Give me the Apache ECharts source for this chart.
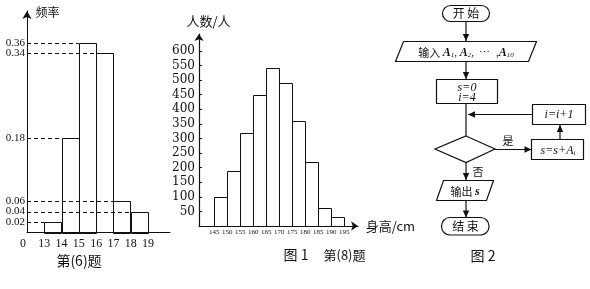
<!DOCTYPE html>
<html><head><meta charset="utf-8">
<script src="https://cdn.jsdelivr.net/npm/echarts@6/dist/echarts.min.js"></script>
<style>html,body{margin:0;padding:0;background:#fff}#c{width:590px;height:289px}</style>
</head><body><div id="c"></div>
<script>
// ---- Panel 1: 第(6)题 frequency histogram ----
const p1BinStarts = [13, 14, 15, 16, 17, 18];
const p1Freq = [0.02, 0.18, 0.36, 0.34, 0.06, 0.04];
const p1YTicksA = [0.02, 0.06, 0.18, 0.36];   // labels drawn on the main y axis
const p1YTicksB = [0.04, 0.34];               // close neighbours, drawn by an overlay axis
const p1XLabels = ['0', '13', '14', '15', '16', '17', '18', '19'];
const p1XOrigin = 12;     // axis origin shown as "0"
const p1BinWidth = 1;
// ---- Panel 2: 图1 第(8)题 height histogram ----
const p2BinStarts = [145, 150, 155, 160, 165, 170, 175, 180, 185, 190];
const p2Counts = [100, 190, 320, 450, 540, 490, 360, 220, 60, 30];
const p2XTicks = [145, 150, 155, 160, 165, 170, 175, 180, 185, 190, 195];
const p2YTicks = [50, 100, 150, 200, 250, 300, 350, 400, 450, 500, 550, 600];
const p2BinWidth = 5;

const ink = '#111';
const serif = 'Liberation Serif';
const cjk = 'Noto Sans CJK SC';

function histItem(width, guideFrom) {
  return function (params, api) {
    const x0 = api.value(0), v = api.value(1);
    const tl = api.coord([x0, v]);
    const br = api.coord([x0 + width, 0]);
    const children = [{
      type: 'rect',
      shape: { x: Math.round(tl[0]) + 0.5, y: Math.round(tl[1]) + 0.5, width: Math.round(br[0] - tl[0]), height: Math.round(br[1] - tl[1]) },
      style: { fill: 'none', stroke: ink, lineWidth: 1 }
    }];
    if (guideFrom !== null) {
      const a = api.coord([guideFrom, v]);
      children.push({
        type: 'line',
        shape: { x1: a[0], y1: Math.round(a[1]) + 0.5, x2: tl[0], y2: Math.round(tl[1]) + 0.5 },
        style: { stroke: ink, lineWidth: 1, lineDash: [4, 3] }
      });
    }
    return { type: 'group', children };
  };
}

// flowchart helpers
const fc = [];
const lineStyle = { stroke: ink, lineWidth: 1.2, fill: 'none' };
function line(x1, y1, x2, y2) { fc.push({ type: 'line', shape: { x1, y1, x2, y2 }, style: lineStyle }); }
function head(x, y, dir) {
  const L = 7, W = 3.2;
  let pts;
  if (dir === 'down') pts = [[x, y], [x - W, y - L], [x + W, y - L]];
  if (dir === 'up') pts = [[x, y], [x - W, y + L], [x + W, y + L]];
  if (dir === 'left') pts = [[x, y], [x + L, y - W], [x + L, y + W]];
  if (dir === 'right') pts = [[x, y], [x - L, y - W], [x - L, y + W]];
  fc.push({ type: 'polygon', shape: { points: pts }, style: { fill: ink } });
}
function arrow(x1, y1, x2, y2, dir) { line(x1, y1, x2, y2); head(x2, y2, dir); }
function txt(x, y, text, size, extra) {
  fc.push({ type: 'text', x, y, style: Object.assign({ text, fontSize: size, fontFamily: cjk, fill: ink, align: 'center', verticalAlign: 'middle', textAlign: 'center', textVerticalAlign: 'middle' }, extra || {}) });
}
const mathRich = {
  a: { fontFamily: serif, fontStyle: 'italic', fontWeight: 'bold', fontSize: 12, lineHeight: 14, verticalAlign: 'bottom' },
  s: { fontFamily: serif, fontStyle: 'italic', fontSize: 7, lineHeight: 9, verticalAlign: 'bottom' },
  c: { fontFamily: cjk, fontSize: 11, lineHeight: 14, verticalAlign: 'bottom' },
  n: { fontFamily: serif, fontSize: 11, lineHeight: 14, verticalAlign: 'bottom' }
};

// 开始
fc.push({ type: 'rect', shape: { x: 442.5, y: 5.5, width: 47, height: 16, r: 8 }, style: lineStyle });
txt(466, 13.5, '开 始', 12);
arrow(466, 21.5, 466, 41, 'down');
// 输入
fc.push({ type: 'polygon', shape: { points: [[403.5, 41.5], [536.5, 41.5], [528.5, 61.5], [395.5, 61.5]] }, style: lineStyle });
txt(466, 51.5, '{c|输入 }{a|A}{s|1}{n|, }{a|A}{s|2}{n|,  ⋯  ,}{a|A}{s|10}', 11, { rich: mathRich });
arrow(466, 61.5, 466, 79, 'down');
// s=0 i=4
fc.push({ type: 'rect', shape: { x: 436.5, y: 79.5, width: 61, height: 24 }, style: lineStyle });
txt(467, 87.5, 's=0', 12, { fontFamily: serif, fontStyle: 'italic' });
txt(467, 97.5, 'i=4', 12, { fontFamily: serif, fontStyle: 'italic' });
line(466, 103.5, 466, 136);
// i=i+1
fc.push({ type: 'rect', shape: { x: 532.5, y: 104.5, width: 53, height: 20 }, style: lineStyle });
txt(559, 114.5, 'i=i+1', 12, { fontFamily: serif, fontStyle: 'italic' });
arrow(532.5, 114.5, 468, 114.5, 'left');
// diamond
fc.push({ type: 'polygon', shape: { points: [[466, 136], [495, 149], [466, 162.5], [435, 149]] }, style: lineStyle });
arrow(495, 149.5, 531.5, 149.5, 'right');
txt(508, 141, '是', 11);
// s=s+Ai
fc.push({ type: 'rect', shape: { x: 531.5, y: 139.5, width: 52, height: 20 }, style: lineStyle });
txt(558, 149.5, '{a|s=s+A}{s|i}', 12, { rich: { a: { fontFamily: serif, fontStyle: 'italic', fontSize: 12, lineHeight: 14, verticalAlign: 'bottom' }, s: mathRich.s } });
arrow(560, 139.5, 560, 125, 'up');
// 否 branch
arrow(466, 162.5, 466, 180, 'down');
txt(478, 171.5, '否', 11);
// 输出
fc.push({ type: 'polygon', shape: { points: [[443.5, 180.5], [493.5, 180.5], [486.5, 200.5], [436.5, 200.5]] }, style: lineStyle });
txt(465, 190.5, '{c|输出 }{a|s}', 11, { rich: mathRich });
arrow(466, 200.5, 466, 217.5, 'down');
// 结束
fc.push({ type: 'rect', shape: { x: 441.5, y: 217.5, width: 47.5, height: 17.5, r: 8.5 }, style: lineStyle });
txt(465.5, 226.5, '结 束', 12);

// captions and axis names
txt(47.5, 12.5, '频率', 12);
txt(79, 261, '第(6)题', 14);
txt(208.5, 21.5, '人数/人', 13);
txt(390.5, 226, '身高/cm', 13);
txt(296, 255, '图 1', 14);
txt(344.5, 255, '第(8)题', 13);
txt(483, 256, '图 2', 14);

const p1YLabel = { formatter: v => v.toFixed(2), margin: 2, color: ink, fontSize: 11, fontFamily: serif, showMinLabel: true, showMaxLabel: true };

const chart = echarts.init(document.getElementById('c'), null, { renderer: 'canvas' });
chart.setOption({
  animation: false,
  backgroundColor: '#fff',
  grid: [
    { left: 27, right: 420, top: 11, bottom: 56.3 },
    { left: 199, right: 232, top: 34, bottom: 63 }
  ],
  xAxis: [
    {
      type: 'value', gridIndex: 0, min: p1XOrigin, max: 20.27, interval: 1,
      splitLine: { show: false }, axisTick: { show: false },
      axisLine: { lineStyle: { color: ink, width: 1 } },
      axisLabel: {
        margin: 5, color: ink, fontSize: 12, fontFamily: serif,
        formatter: v => {
          const idx = Math.round(v - p1XOrigin);
          if (Math.abs(v - Math.round(v)) > 1e-6 || idx < 0 || idx >= p1XLabels.length) return '';
          return idx === 0 ? '{o|' + p1XLabels[0] + '}' : p1XLabels[idx];
        },
        rich: { o: { fontSize: 12, fontFamily: serif, color: ink, padding: [0, 8, 0, 0] } }
      }
    },
    {
      type: 'value', gridIndex: 1, min: 139.1, max: 200.3,
      splitLine: { show: false }, axisTick: { show: false },
      axisLine: { symbol: ['none', 'arrow'], symbolSize: [7, 7], lineStyle: { color: ink, width: 1.2 } },
      axisLabel: { customValues: p2XTicks, margin: 3, color: ink, fontSize: 7, fontFamily: serif, showMinLabel: true, showMaxLabel: true }
    }
  ],
  yAxis: [
    {
      type: 'value', gridIndex: 0, min: 0, max: 0.42,
      splitLine: { show: false }, axisTick: { show: false },
      axisLine: { symbol: ['none', 'arrow'], symbolSize: [7, 8], lineStyle: { color: ink, width: 1 } },
      axisLabel: Object.assign({ customValues: p1YTicksA }, p1YLabel)
    },
    {
      type: 'value', gridIndex: 1, min: 0, max: 658,
      splitLine: { show: false },
      axisTick: { customValues: p2YTicks, inside: true, length: 3, lineStyle: { color: ink } },
      axisLine: { symbol: ['none', 'arrow'], symbolSize: [7, 7], lineStyle: { color: ink, width: 1.2 } },
      axisLabel: { customValues: p2YTicks, margin: 4, color: ink, fontSize: 12, fontFamily: 'DejaVu Serif', showMinLabel: true, showMaxLabel: true }
    },
    {
      type: 'value', gridIndex: 0, min: 0, max: 0.42, position: 'left', offset: 0,
      splitLine: { show: false }, axisTick: { show: false }, axisLine: { show: false },
      axisLabel: Object.assign({ customValues: p1YTicksB }, p1YLabel)
    }
  ],
  series: [
    {
      type: 'custom', xAxisIndex: 0, yAxisIndex: 0, clip: false,
      renderItem: histItem(p1BinWidth, p1XOrigin),
      data: p1BinStarts.map((x, i) => [x, p1Freq[i]])
    },
    {
      type: 'custom', xAxisIndex: 1, yAxisIndex: 1, clip: false,
      renderItem: histItem(p2BinWidth, null),
      data: p2BinStarts.map((x, i) => [x, p2Counts[i]])
    }
  ],
  graphic: fc
});
</script></body></html>
